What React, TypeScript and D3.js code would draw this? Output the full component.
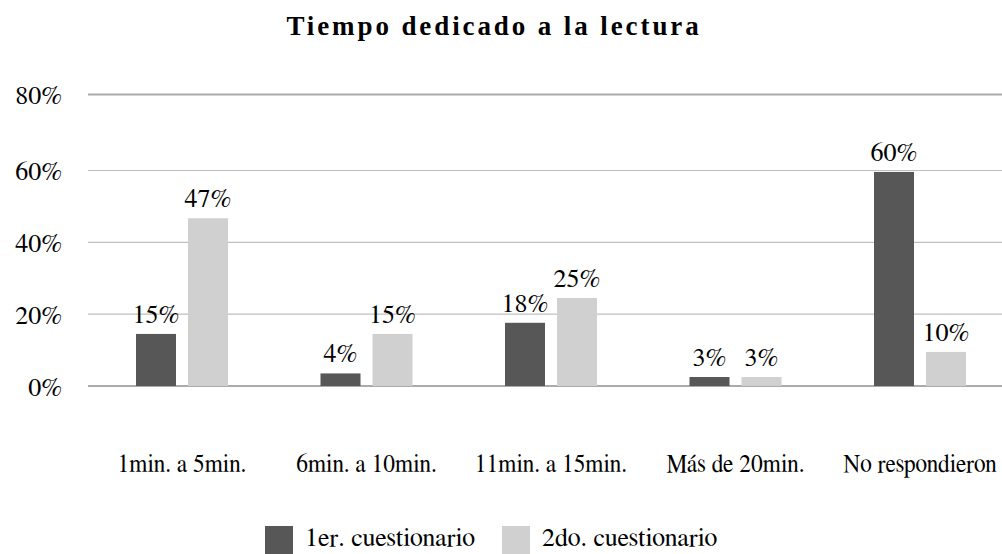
import React from "react";
import * as d3 from "d3";

const categories = ["1min. a 5min.", "6min. a 10min.", "11min. a 15min.", "Más de 20min.", "No respondieron"];
const seriesNames = ["1er. cuestionario", "2do. cuestionario"];
const primero = [14.5, 3.5, 17.6, 2.5, 59.6];
const segundo = [46.7, 14.5, 24.5, 2.5, 9.5];
const yTicks = [0, 20, 40, 60, 80];
const colors = ["#575757", "#d0d0d0"];

const W = 1002;
const H = 554;
const FONT = '"FreeSerif", "Liberation Serif", "TeX Gyre Termes", serif';
const TITLE_FONT = '"Liberation Serif", "FreeSerif", serif';

export default function App() {
  const x0 = d3.scaleBand<string>().domain(categories).range([89.75, 89.75 + 5 * 184.5]).paddingInner(0);
  const bw = x0.bandwidth();
  const x1 = d3.scaleBand<string>().domain(seriesNames).range([bw / 2 - 46, bw / 2 + 46]).paddingInner(12 / 52);
  const y = d3.scaleLinear().domain([0, 60, 80]).range([386, 170.5, 94.5]);
  const seriesData = [primero, segundo];
  const fmt = (v: number) => `${Math.round(v)}%`;

  return (
    <svg width={W} height={H} style={{ position: "absolute", left: 0, top: 0, background: "#fff" }}>
      <text
        x={494}
        y={35}
        textAnchor="middle"
        fontSize={27}
        fontWeight="bold"
        letterSpacing={2.9}
        fill="#000"
        fontFamily={TITLE_FONT}
      >
        Tiempo dedicado a la lectura
      </text>
      {yTicks.map((t) => (
        <g key={t}>
          <line
            x1={88}
            x2={W}
            y1={y(t)}
            y2={y(t)}
            stroke={t === 0 || t === 80 ? "#ababab" : "#bfbfbf"}
            strokeWidth={t === 0 || t === 80 ? 2 : 1.2}
          />
          <text x={62} y={y(t) + 9.5} textAnchor="end" fontSize={26} fontFamily={FONT} fill="#000">
            {t}%
          </text>
        </g>
      ))}
      {categories.map((c, i) => (
        <g key={c} transform={`translate(${x0(c)},0)`}>
          {seriesNames.map((s, j) => {
            const v = seriesData[j][i];
            const bx = x1(s)!;
            return (
              <g key={s}>
                <rect x={bx} y={y(v)} width={x1.bandwidth()} height={y(0) - y(v)} fill={colors[j]} />
                <text
                  x={bx + x1.bandwidth() / 2}
                  y={y(v) - 11}
                  textAnchor="middle"
                  fontSize={26}
                  fontFamily={FONT}
                  fill="#000"
                >
                  {fmt(v)}
                </text>
              </g>
            );
          })}
          <g transform={`translate(${bw / 2},472) scale(0.9,1)`}>
            <text textAnchor="middle" fontSize={26} fontFamily={FONT} fill="#000">
              {c}
            </text>
          </g>
        </g>
      ))}
      {seriesNames.map((s, j) => {
        const lx = [265, 502][j];
        return (
          <g key={s}>
            <rect x={lx} y={526} width={28} height={28} fill={colors[j]} />
            <text x={lx + 40} y={546} fontSize={26} fontFamily={FONT} fill="#000">
              {s}
            </text>
          </g>
        );
      })}
    </svg>
  );
}
